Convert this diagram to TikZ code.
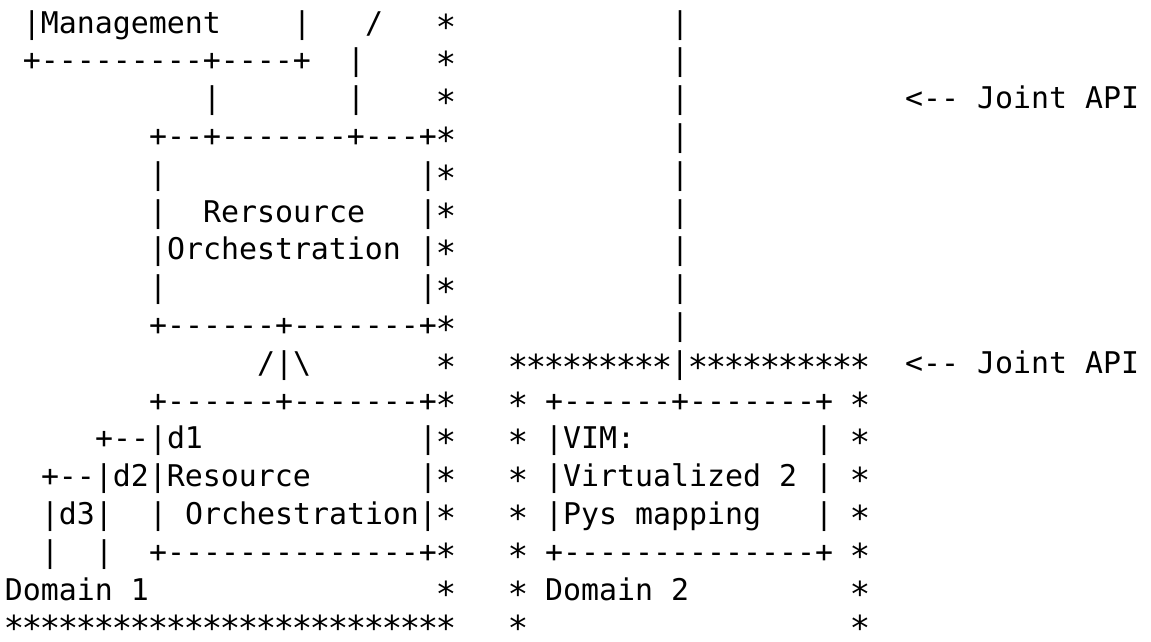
\documentclass[tikz,border=0pt]{standalone}
\usepackage{fontspec}
\setmonofont{DejaVu Sans Mono}
\newcommand{\sta}{\hbox to 17.999pt{\hss\raisebox{-6pt}[0pt][0pt]{\scalebox{1.15}{*}}\hss}}
\begin{document}
\begin{tikzpicture}[x=1pt,y=-1pt,
  txt/.style={anchor=base west,inner sep=0pt,outer sep=0pt,font=\ttfamily\fontsize{29.9}{36}\selectfont}]
\useasboundingbox (0,0) rectangle (1151,641);
\frenchspacing
% x = 5 + 18*col ; baseline y = 33 + 37.8*(row-1)
% row 1
\node[txt] (r1a) at (23,33) {|Management};
\node[txt] (r1b) at (293,33) {|};
\node[txt] (r1c) at (365,33) {/};
\node[txt] (r1d) at (437,33) {\sta};
\node[txt] (r1e) at (671,33) {|};
% row 2
\node[txt] (r2a) at (23,70.8) {+---------+----+};
\node[txt] (r2b) at (347,70.8) {|};
\node[txt] (r2c) at (437,70.8) {\sta};
\node[txt] (r2d) at (671,70.8) {|};
% row 3
\node[txt] (r3a) at (203,108.6) {|};
\node[txt] (r3b) at (347,108.6) {|};
\node[txt] (r3c) at (437,108.6) {\sta};
\node[txt] (r3d) at (671,108.6) {|};
\node[txt] (r3e) at (905,108.6) {<-- Joint API};
% row 4
\node[txt] (r4a) at (149,146.4) {+--+-------+---+\sta};
\node[txt] (r4b) at (671,146.4) {|};
% row 5
\node[txt] (r5a) at (149,184.2) {|};
\node[txt] (r5b) at (419,184.2) {|\sta};
\node[txt] (r5c) at (671,184.2) {|};
% row 6
\node[txt] (r6a) at (149,222) {|};
\node[txt] (r6b) at (203,222) {Rersource};
\node[txt] (r6c) at (419,222) {|\sta};
\node[txt] (r6d) at (671,222) {|};
% row 7
\node[txt] (r7a) at (149,259.8) {|Orchestration};
\node[txt] (r7b) at (419,259.8) {|\sta};
\node[txt] (r7c) at (671,259.8) {|};
% row 8
\node[txt] (r8a) at (149,297.6) {|};
\node[txt] (r8b) at (419,297.6) {|\sta};
\node[txt] (r8c) at (671,297.6) {|};
% row 9
\node[txt] (r9a) at (149,335.4) {+------+-------+\sta};
\node[txt] (r9b) at (671,335.4) {|};
% row 10
\node[txt] (r10a) at (257,373.2) {/|\textbackslash};
\node[txt] (r10b) at (437,373.2) {\sta};
\node[txt] (r10c) at (509,373.2) {\sta\sta\sta\sta\sta\sta\sta\sta\sta|\sta\sta\sta\sta\sta\sta\sta\sta\sta\sta};
\node[txt] (r10d) at (905,373.2) {<-- Joint API};
% row 11
\node[txt] (r11a) at (149,411) {+------+-------+\sta};
\node[txt] (r11b) at (509,411) {\sta};
\node[txt] (r11c) at (545,411) {+------+-------+};
\node[txt] (r11d) at (851,411) {\sta};
% row 12
\node[txt] (r12a) at (95,448.8) {+--|d1};
\node[txt] (r12b) at (419,448.8) {|\sta};
\node[txt] (r12c) at (509,448.8) {\sta};
\node[txt] (r12d) at (545,448.8) {|VIM:};
\node[txt] (r12e) at (815,448.8) {|};
\node[txt] (r12f) at (851,448.8) {\sta};
% row 13
\node[txt] (r13a) at (41,486.6) {+--|d2|Resource};
\node[txt] (r13b) at (419,486.6) {|\sta};
\node[txt] (r13c) at (509,486.6) {\sta};
\node[txt] (r13d) at (545,486.6) {|Virtualized 2};
\node[txt] (r13e) at (815,486.6) {|};
\node[txt] (r13f) at (851,486.6) {\sta};
% row 14
\node[txt] (r14a) at (41,524.4) {|d3|};
\node[txt] (r14b) at (149,524.4) {|};
\node[txt] (r14c) at (185,524.4) {Orchestration|\sta};
\node[txt] (r14d) at (509,524.4) {\sta};
\node[txt] (r14e) at (545,524.4) {|Pys mapping};
\node[txt] (r14f) at (815,524.4) {|};
\node[txt] (r14g) at (851,524.4) {\sta};
% row 15
\node[txt] (r15a) at (41,562.2) {|};
\node[txt] (r15b) at (95,562.2) {|};
\node[txt] (r15c) at (149,562.2) {+--------------+\sta};
\node[txt] (r15d) at (509,562.2) {\sta};
\node[txt] (r15e) at (545,562.2) {+--------------+};
\node[txt] (r15f) at (851,562.2) {\sta};
% row 16
\node[txt] (r16a) at (5,600) {Domain 1};
\node[txt] (r16b) at (437,600) {\sta};
\node[txt] (r16c) at (509,600) {\sta};
\node[txt] (r16d) at (545,600) {Domain 2};
\node[txt] (r16e) at (851,600) {\sta};
% row 17
\node[txt] (r17a) at (5,634.5) {\sta\sta\sta\sta\sta\sta\sta\sta\sta\sta\sta\sta\sta\sta\sta\sta\sta\sta\sta\sta\sta\sta\sta\sta\sta};
\node[txt] (r17b) at (509,634.5) {\sta};
\node[txt] (r17c) at (851,634.5) {\sta};
\end{tikzpicture}
\end{document}
